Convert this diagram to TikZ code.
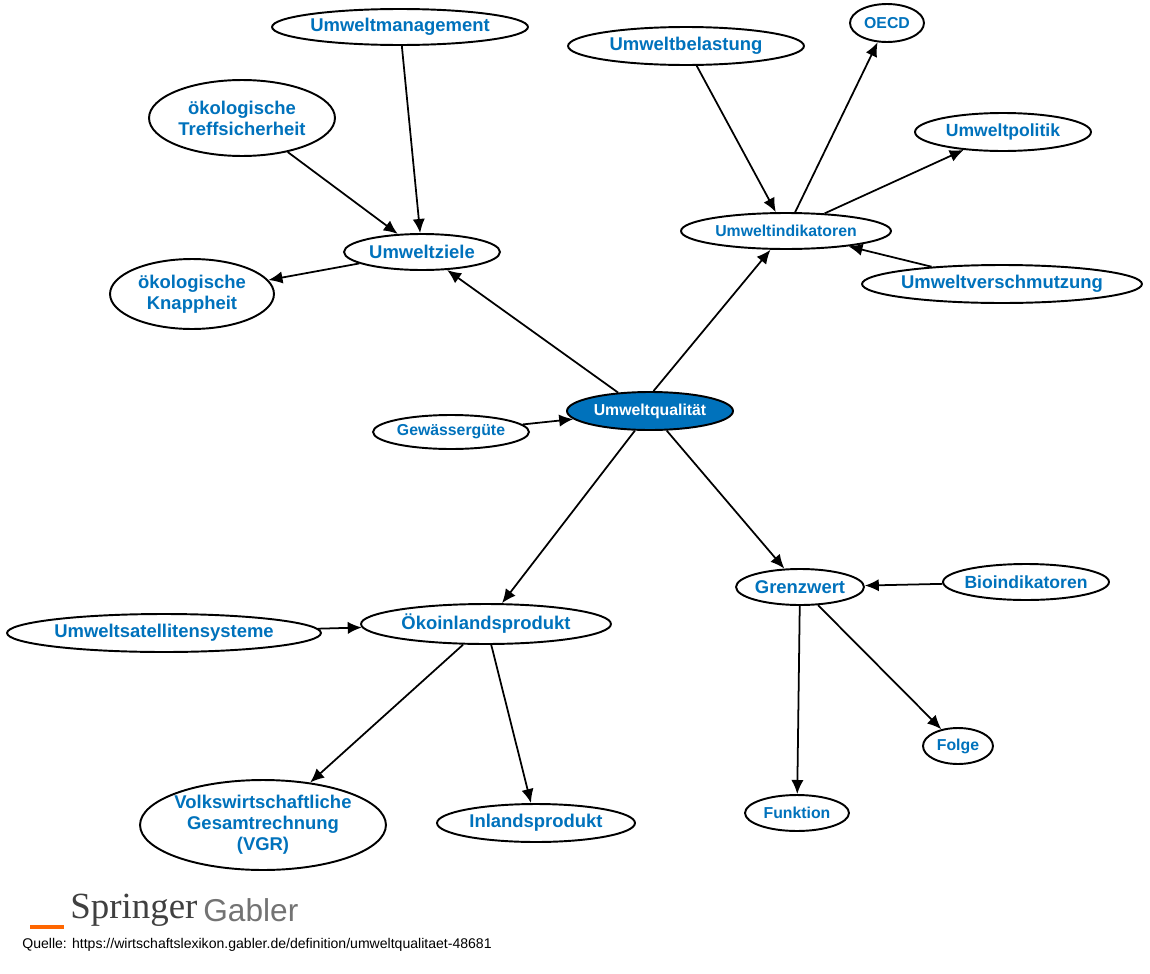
\documentclass[tikz,border=0pt]{standalone}
\usepackage{fontspec}
\setmainfont{Liberation Sans}
\newfontfamily\serifspr{Liberation Serif}
\usetikzlibrary{shapes.geometric,arrows.meta}
\definecolor{sb}{RGB}{0,114,188}
\begin{document}
\begin{tikzpicture}[x=0.02cm,y=-0.02cm,
  e/.style={ellipse,draw=black,line width=1.1pt,fill=white,inner xsep=-8pt,inner ysep=-1pt,text=sb,font=\bfseries\fontsize{10.5}{12}\selectfont,align=center},
  es/.style={e,font=\bfseries\fontsize{9}{10}\selectfont},
  a/.style={-{Latex[length=8pt,width=7pt]},line width=1pt}]
\useasboundingbox (0,0) rectangle (1150,974);
\def\E#1#2#3#4#5#6{\node[#1,minimum width=#4*0.04cm,minimum height=#5*0.04cm] (#2) at #3 {#6};}
\E{e}{um}{(400,27)}{128}{18}{Umweltmanagement}
\E{e}{ts}{(242,118)}{93}{38}{ökologische\\Treffsicherheit}
\E{e}{uz}{(422,252)}{78}{18}{Umweltziele}
\E{e}{kn}{(192,294)}{82}{35}{ökologische\\Knappheit}
\E{e}{ub}{(686,46)}{118}{19}{Umweltbelastung}
\E{es}{oe}{(887,23)}{37}{19}{OECD}
\E{es}{up}{(1003,132)}{88}{19}{\fontsize{10}{12}\selectfont Umweltpolitik}
\E{es}{ui}{(786,231)}{105}{18}{Umweltindikatoren}
\E{e}{uv}{(1002,284)}{140}{19}{Umweltverschmutzung}
\node[es,fill=sb,text=white,minimum width=166*0.02cm,minimum height=38*0.02cm] (uq) at (650,411) {Umweltqualität};
\E{es}{gg}{(451,432)}{78}{17}{Gewässergüte}
\E{e}{gw}{(800,587)}{64}{18}{Grenzwert}
\E{es}{bi}{(1026,582)}{83}{18}{\fontsize{10}{12}\selectfont Bioindikatoren}
\E{e}{ok}{(486,624)}{125}{20}{Ökoinlandsprodukt}
\E{e}{us}{(164,633)}{157}{19}{Umweltsatellitensysteme}
\E{es}{fo}{(958,746)}{35}{18}{Folge}
\E{es}{fu}{(797,813)}{52}{18}{Funktion}
\E{e}{vg}{(263,825)}{123}{45}{Volkswirtschaftliche\\Gesamtrechnung\\(VGR)}
\E{e}{ip}{(536,823)}{99}{19}{Inlandsprodukt}
\draw[a] (um) -- (uz);
\draw[a] (ts) -- (uz);
\draw[a] (uz) -- (kn);
\draw[a] (uq.150) -- (uz);
\draw[a] (uq.80) -- (ui);
\draw[a] (ub) -- (ui);
\draw[a] (ui) -- (oe);
\draw[a] (ui) -- (up);
\draw[a] (uv) -- (ui);
\draw[a] (gg) -- (uq);
\draw[a] (uq) -- (ok);
\draw[a] (uq) -- (gw);
\draw[a] (bi) -- (gw);
\draw[a] (gw) -- (fo);
\draw[a] (gw) -- (fu);
\draw[a] (us) -- (ok);
\draw[a] (ok) -- (vg);
\draw[a] (ok) -- (ip);
\node[anchor=west,inner sep=0pt,text=black!75,font=\serifspr\fontsize{21}{22}\selectfont] (sp) at (70,910) {Springer};
\node[anchor=west,inner sep=0pt,text=black!55,font=\fontsize{18}{20}\selectfont] (ga) at (sp.east) {\,Gabler};
\fill[orange!80!red] (30,925) rectangle (64,929);
\node[anchor=west,inner sep=0pt,font=\fontsize{8}{9}\selectfont] (q) at (22,945) {Quelle: https://wirtschaftslexikon.gabler.de/definition/umweltqualitaet-48681};
\end{tikzpicture}
\end{document}
